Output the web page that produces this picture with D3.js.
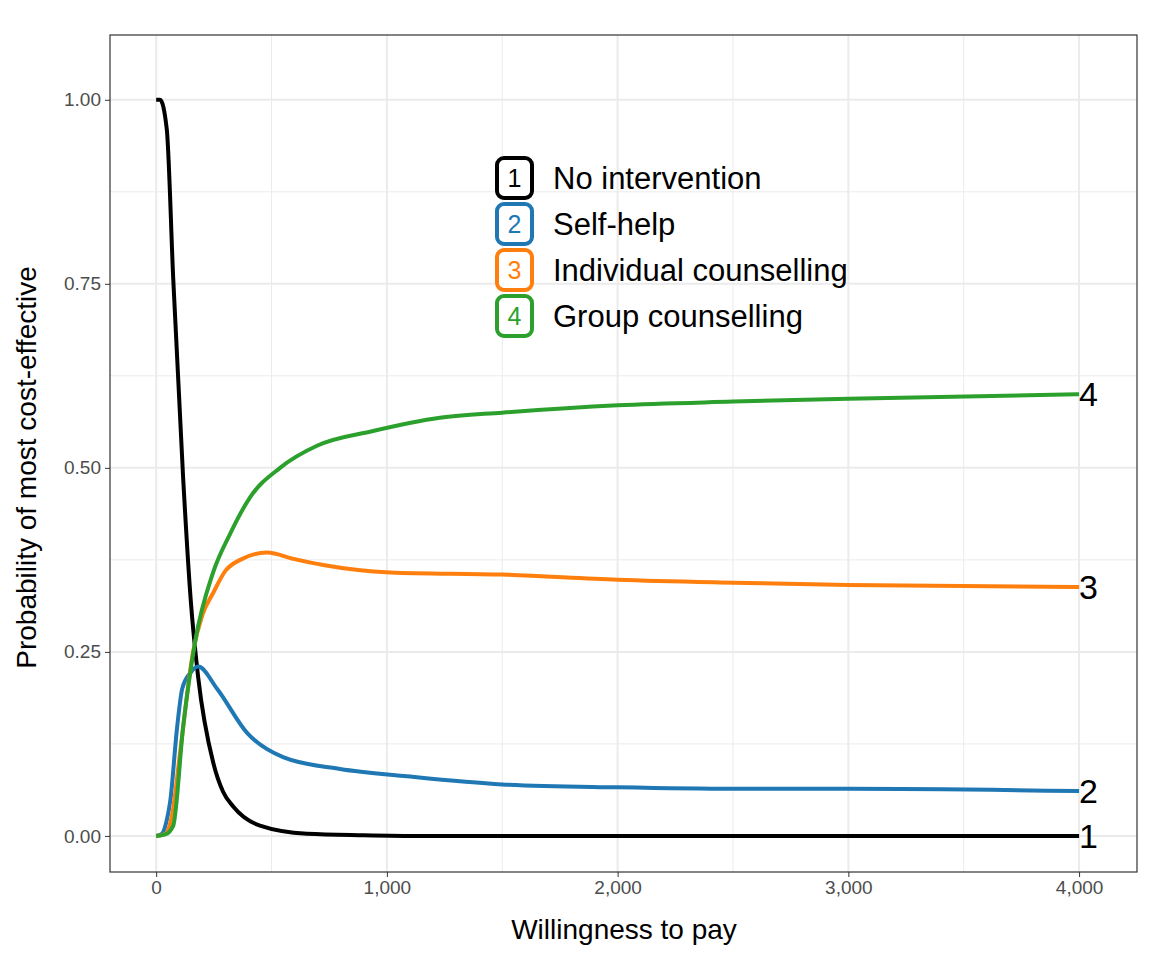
<!DOCTYPE html><html><head><meta charset="utf-8"><script src="https://cdn.jsdelivr.net/npm/d3@7"></script>
<style>body{margin:0;background:#fff}</style></head><body><svg id="c" width="1152" height="960"></svg>
<script>
const seriesNames=["No intervention","Self-help","Individual counselling","Group counselling"];
const colors=["#000000","#1f77b4","#ff7f0e","#2ca02c"];
const noInt=[[0,1],[17,1],[46,0.96],[74,0.757],[117,0.486],[150,0.32],[182,0.216],[247,0.10],[290,0.06],[334,0.04],[450,0.014],[654,0.003],[900,0.001],[1150,0],[4000,0]];
const selfHelp=[[0,0],[25,0.003],[45,0.02],[61,0.047],[91,0.148],[113,0.20],[150,0.222],[182,0.23],[264,0.20],[394,0.14],[550,0.107],[797,0.091],[1087,0.081],[1500,0.07],[2000,0.066],[2500,0.064],[3000,0.064],[4000,0.061]];
const indiv=[[0,0],[40,0.003],[70,0.03],[104,0.114],[160,0.25],[200,0.30],[247,0.33],[300,0.36],[364,0.375],[480,0.385],[600,0.376],[724,0.368],[1014,0.358],[1500,0.355],[2000,0.348],[2500,0.344],[3000,0.341],[4000,0.338]];
const group=[[0,0],[40,0.002],[74,0.014],[117,0.148],[169,0.264],[247,0.358],[320,0.41],[407,0.46],[537,0.50],[697,0.53],[940,0.55],[1230,0.568],[1500,0.575],[2000,0.585],[2500,0.59],[3000,0.594],[4000,0.6]];
const allSeries=[noInt,selfHelp,indiv,group];
const xTicks=[0,1000,2000,3000,4000], xMinor=[500,1500,2500,3500];
const yTicks=[0,0.25,0.5,0.75,1], yMinor=[0.125,0.375,0.625,0.875];
const F="Liberation Sans, Arial, sans-serif";
const svg=d3.select("#c");
const L=110,R=1137,T=35,B=872;
const x=d3.scaleLinear().domain([-200,4251]).range([L,R]);
const y=d3.scaleLinear().domain([-0.049,1.088]).range([B,T]);
const g=svg.append("g");
g.selectAll(".mx").data(xMinor).join("line").attr("x1",x).attr("x2",x).attr("y1",T).attr("y2",B).attr("stroke","#ebebeb").attr("stroke-width",1);
g.selectAll(".my").data(yMinor).join("line").attr("y1",y).attr("y2",y).attr("x1",L).attr("x2",R).attr("stroke","#ebebeb").attr("stroke-width",1);
g.selectAll(".Mx").data(xTicks).join("line").attr("x1",x).attr("x2",x).attr("y1",T).attr("y2",B).attr("stroke","#ebebeb").attr("stroke-width",2);
g.selectAll(".My").data(yTicks).join("line").attr("y1",y).attr("y2",y).attr("x1",L).attr("x2",R).attr("stroke","#ebebeb").attr("stroke-width",2);
const line=d3.line().x(d=>x(d[0])).y(d=>y(d[1])).curve(d3.curveMonotoneX);
allSeries.forEach((s,i)=>svg.append("path").attr("d",line(s)).attr("fill","none").attr("stroke",colors[i]).attr("stroke-width",4));
svg.append("rect").attr("x",L).attr("y",T).attr("width",R-L).attr("height",B-T).attr("fill","none").attr("stroke","#333").attr("stroke-width",1.2);
const xa=svg.append("g").attr("transform",`translate(0,${B})`).call(d3.axisBottom(x).tickValues(xTicks).tickSize(5).tickPadding(4).tickFormat(d3.format(",")));
const ya=svg.append("g").attr("transform",`translate(${L},0)`).call(d3.axisLeft(y).tickValues(yTicks).tickSize(5).tickPadding(4).tickFormat(d3.format(".2f")));
[xa,ya].forEach(a=>{a.select(".domain").remove();a.selectAll("line").attr("stroke","#333");a.selectAll("text").attr("fill","#4d4d4d").attr("font-size",19).attr("font-family",F);});
svg.append("text").attr("x",624).attr("y",939).attr("text-anchor","middle").attr("font-size",28).attr("font-family",F).text("Willingness to pay");
svg.append("text").attr("transform",`translate(36,${(T+B)/2+14}) rotate(-90)`).attr("text-anchor","middle").attr("font-size",28).attr("font-family",F).text("Probability of most cost-effective");
allSeries.forEach((s,i)=>{const p=s[s.length-1];svg.append("text").attr("x",x(p[0])).attr("y",y(p[1])+12).attr("font-size",34).attr("font-family",F).text(i+1);});
const lg=svg.append("g");
seriesNames.forEach((n,i)=>{const cy=178+i*46;
 lg.append("rect").attr("x",497).attr("y",cy-20).attr("width",35).attr("height",40).attr("rx",7).attr("fill","#fff").attr("stroke",colors[i]).attr("stroke-width",4);
 lg.append("text").attr("x",514.5).attr("y",cy+9).attr("text-anchor","middle").attr("font-size",25).attr("fill",colors[i]).attr("font-family",F).text(i+1);
 lg.append("text").attr("x",553).attr("y",cy+11).attr("font-size",31).attr("font-family",F).text(n);});
</script></body></html>
